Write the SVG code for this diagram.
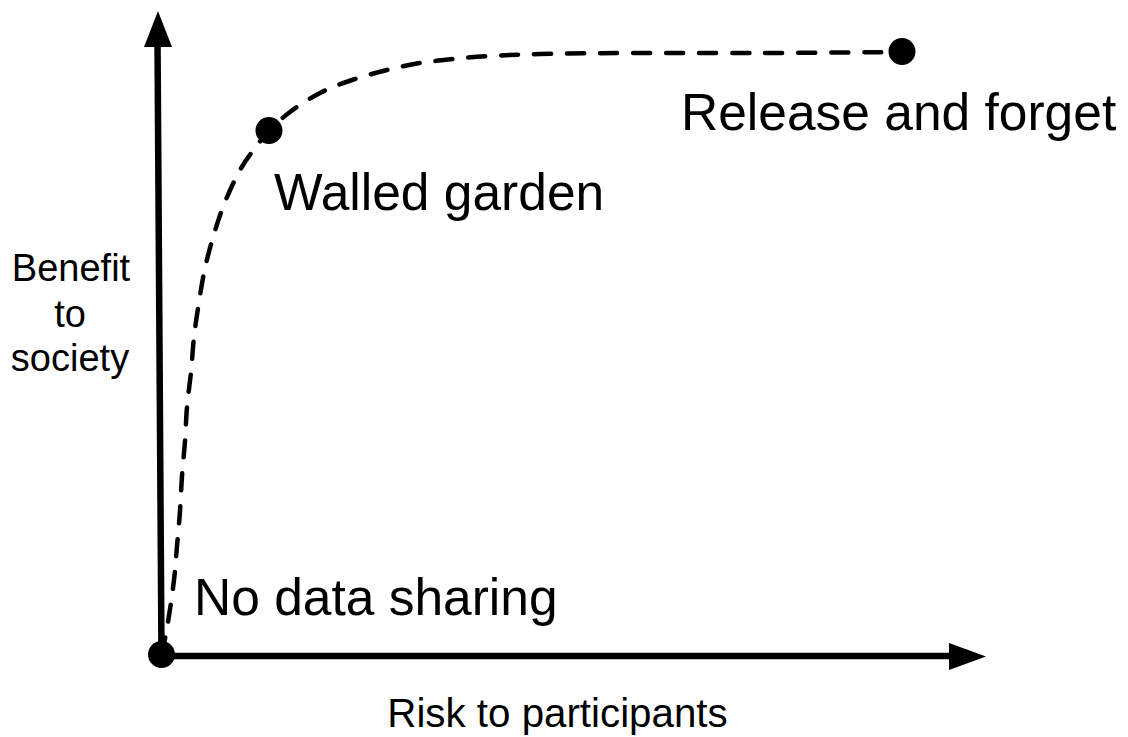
<svg xmlns="http://www.w3.org/2000/svg" width="1128" height="737" viewBox="0 0 1128 737">
<style>
.lbl{font-family:"Liberation Sans",Arial,Helvetica,sans-serif;fill:#000}
.big{font-size:51.5px}
.axis{stroke:#000;stroke-width:6.5;fill:none}
.curve{stroke:#000;stroke-width:4.5;fill:none;stroke-dasharray:17 16;stroke-linecap:round}
.dot{fill:#000}
</style>
<rect width="1128" height="737" fill="#fff"/>
<g id="connectors">
<line class="axis" x1="157.5" y1="40" x2="161.5" y2="656"/>
<polygon points="158,11 144,47 172,47" fill="#000"/>
<line class="axis" x1="160" y1="656" x2="952" y2="656"/>
<polygon points="986,656.5 949,643 949,670" fill="#000"/>
<path class="curve" d="M162,654 C163,648.7 166,634.3 168,622 C170,609.7 172.5,592.7 174,580 C175.5,567.3 176,557.5 177,546 C178,534.5 179.2,522.7 180,511 C180.8,499.3 181.2,487.7 182,476 C182.8,464.3 184.2,452.5 185,441 C185.8,429.5 186,418.5 187,407 C188,395.5 189.8,383.7 191,372 C192.2,360.3 192.7,348.7 194,337 C195.3,325.3 197.2,313.5 199,302 C200.8,290.5 202.5,279.3 205,268 C207.5,256.7 210.7,245 214,234 C217.3,223 220.7,212.7 225,202 C229.3,191.3 235,179 240,170 C245,161 250.2,154.5 255,148 C259.8,141.5 263.2,137 269,131 C274.8,125 281.5,118.3 290,112 C298.5,105.7 309.7,98.3 320,93 C330.3,87.7 340.8,83.8 352,80 C363.2,76.2 375.7,72.8 387,70 C398.3,67.2 409,64.8 420,63 C431,61.2 441.3,60.2 453,59 C464.7,57.8 475.5,56.8 490,56 C504.5,55.2 518.3,54.5 540,54 C561.7,53.5 583.3,53.2 620,53 C656.7,52.8 713,53.2 760,53 C807,52.8 878.3,52.2 902,52"/>
</g>
<g id="node-origin">
<circle class="dot" cx="161.5" cy="654.5" r="13.5"/>
<text class="lbl big" x="194" y="615">No data sharing</text>
</g>
<g id="node-walled">
<circle class="dot" cx="269" cy="130.5" r="13.5"/>
<text class="lbl big" x="274" y="210">Walled garden</text>
</g>
<g id="node-release">
<circle class="dot" cx="902" cy="51.5" r="13.5"/>
<text class="lbl big" x="681" y="130">Release and forget</text>
</g>
<g id="label-y">
<text class="lbl" font-size="38" text-anchor="middle" x="71" y="281">Benefit</text>
<text class="lbl" font-size="38" text-anchor="middle" x="70" y="327">to</text>
<text class="lbl" font-size="38" text-anchor="middle" x="70" y="371">society</text>
</g>
<g id="label-x">
<text class="lbl" font-size="40.3" text-anchor="middle" x="557.5" y="727">Risk to participants</text>
</g>
</svg>
